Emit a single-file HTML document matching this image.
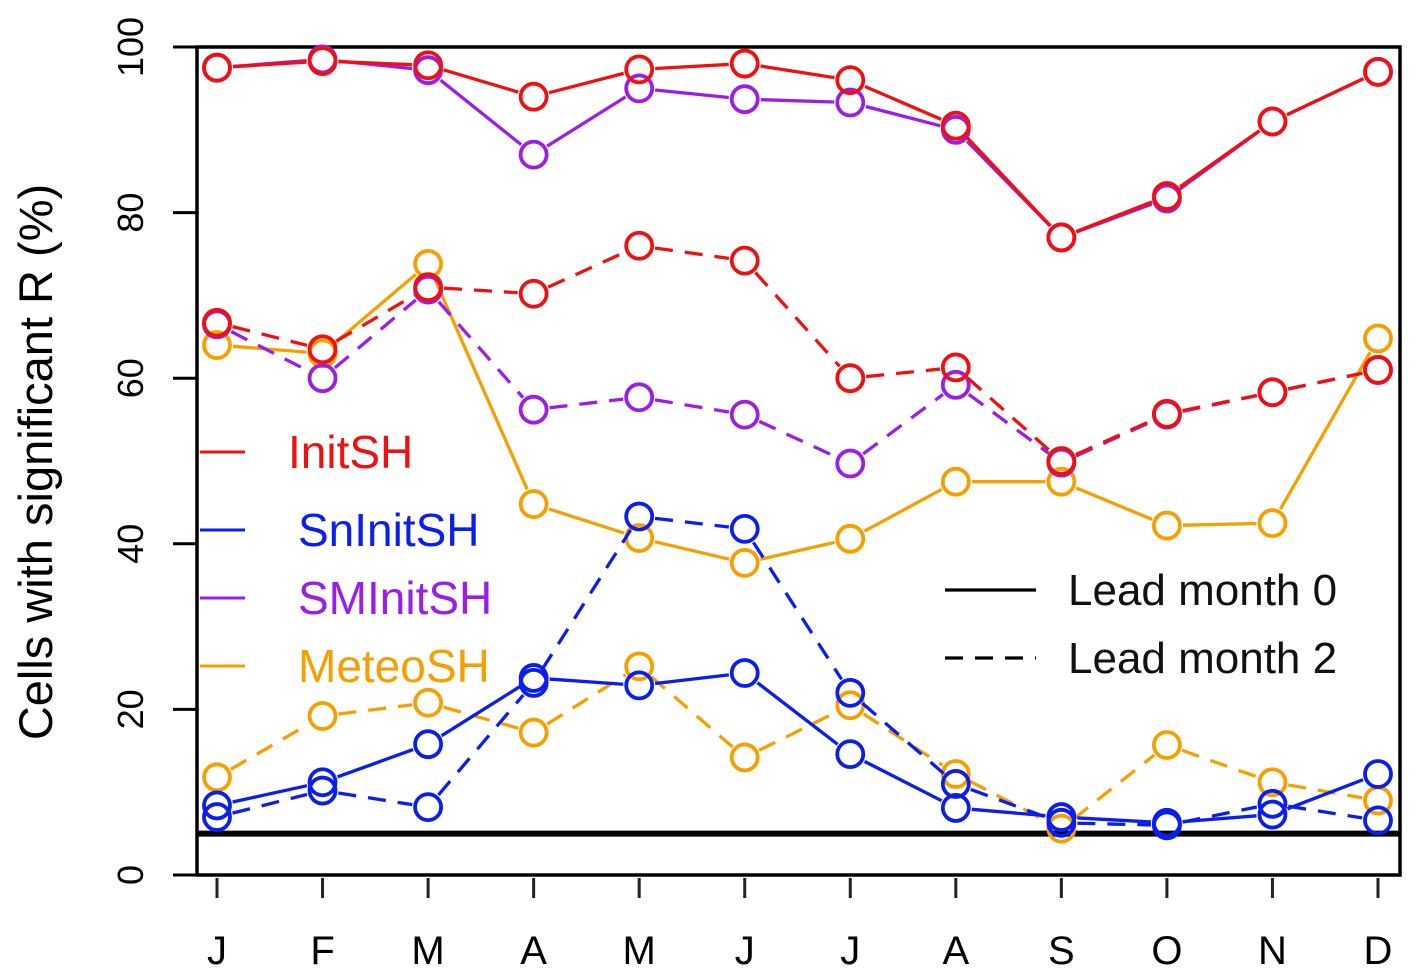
<!DOCTYPE html>
<html><head><meta charset="utf-8"><style>
body{margin:0;background:#fff;}
svg{display:block;font-family:"Liberation Sans",sans-serif;}
</style></head><body>
<svg id="chart" width="1423" height="976">
<g id="marks"></g>
</svg>
<script>
const months=["J","F","M","A","M","J","J","A","S","O","N","D"];
const yTicks=[0,20,40,60,80,100];
const initSH0=[97.5,98.3,97.8,94,97.3,98,96,90.5,77,82,91,97];
const smInitSH0=[97.5,98.5,97.2,87,95,93.7,93.3,90,77,81.7,91,97];
const initSH2=[66.7,63.5,71,70.2,76,74.2,60,61.3,50,55.7,58.3,61];
const smInitSH2=[66.5,60,70.7,56.2,57.7,55.6,49.7,59.2,49.8,55.6,58.3,61];
const meteoSH0=[64,63,73.8,44.8,40.7,37.7,40.6,47.5,47.5,42.2,42.5,64.8];
const meteoSH2=[11.8,19.2,20.8,17.2,25.2,14.2,20.5,12.2,5.6,15.7,11.2,9];
const snInitSH0=[8.4,11.2,15.8,23.8,22.9,24.4,14.6,8.1,7,6.3,7.3,12.2];
const snInitSH2=[7,10.2,8.2,23.2,43.3,41.8,22,11,6.3,6,8.6,6.6];
const threshold=5;

const NS="http://www.w3.org/2000/svg";
const g=document.getElementById('marks');
const X=i=>217+i*(1378-217)/11;
const Y=v=>875-v*8.28;
function mk(tag,attrs,parent){const e=document.createElementNS(NS,tag);for(const k in attrs)e.setAttribute(k,attrs[k]);(parent||g).appendChild(e);return e;}

const box=mk('rect',{x:197,y:47,width:1203,height:828,fill:'none',stroke:'#000','stroke-width':3.5});


const th=mk('line',{x1:197,x2:1400,y1:Y(threshold),y2:Y(threshold),stroke:'#000','stroke-width':6});



yTicks.forEach(v=>{
  const l=mk('line',{x1:173,x2:197,y1:Y(v),y2:Y(v),stroke:'#000','stroke-width':3});
  
  
  const t=mk('text',{x:0,y:0,transform:`translate(143,${Y(v)}) rotate(-90)`,'text-anchor':'middle','font-size':36,fill:'#000'});
  t.textContent=v;
  
  
});
months.forEach((m,i)=>{
  const l=mk('line',{x1:X(i),x2:X(i),y1:878,y2:898,stroke:'#222','stroke-width':3});
  
  
  const t=mk('text',{x:X(i),y:964,'text-anchor':'middle','font-size':40,fill:'#000'});
  t.textContent=m;
  
  
});
const yt=mk('text',{x:0,y:0,transform:'translate(52,462) rotate(-90)','text-anchor':'middle','font-size':47,fill:'#000'});
yt.textContent='Cells with significant R (%)';



function series(vals,color,dashed,name){
  const r=13,gap=16;
  for(let i=0;i<vals.length-1;i++){
    const x1=X(i),y1=Y(vals[i]),x2=X(i+1),y2=Y(vals[i+1]);
    const dx=x2-x1,dy=y2-y1,d=Math.hypot(dx,dy);
    if(d<2*gap+2)continue;
    const ux=dx/d,uy=dy/d;
    const s=mk('line',{x1:x1+ux*gap,y1:y1+uy*gap,x2:x2-ux*gap,y2:y2-uy*gap,stroke:color,'stroke-width':3.3,'stroke-dasharray':dashed?'18 12':'none'});
    
    
  }
  vals.forEach((v,i)=>{
    const c=mk('circle',{cx:X(i),cy:Y(v),r:r,fill:'none',stroke:color,'stroke-width':3.8});
    
    
  });
}
series(meteoSH2,'#f5a000',true,'meteosh-lead2');
series(meteoSH0,'#f5a000',false,'meteosh-lead0');
series(snInitSH2,'#0a1ef0',true,'sninitsh-lead2');
series(snInitSH0,'#0a1ef0',false,'sninitsh-lead0');
series(smInitSH2,'#9a1ee8',true,'sminitsh-lead2');
series(smInitSH0,'#9a1ee8',false,'sminitsh-lead0');
series(initSH2,'#f01010',true,'initsh-lead2');
series(initSH0,'#f01010',false,'initsh-lead0');

const leg=[["InitSH","#f01010",452,288],["SnInitSH","#0a1ef0",530,298],["SMInitSH","#9a1ee8",598,298],["MeteoSH","#f5a000",666,298]];
leg.forEach(([n,c,y,tx])=>{
  const l=mk('line',{x1:200,x2:245,y1:y,y2:y,stroke:c,'stroke-width':3});
  
  
  const t=mk('text',{x:tx,y:y+16,'font-size':46,fill:c});
  t.textContent=n;
  
  
});
[["Lead month 0",590,'none'],["Lead month 2",658,'18 12']].forEach(([n,y,da])=>{
  const l=mk('line',{x1:945,x2:1036,y1:y,y2:y,stroke:'#000','stroke-width':3.3,'stroke-dasharray':da});
  
  
  const t=mk('text',{x:1068,y:y+15,'font-size':44,fill:'#111'});
  t.textContent=n;
  
  
});
</script>
</body></html>
